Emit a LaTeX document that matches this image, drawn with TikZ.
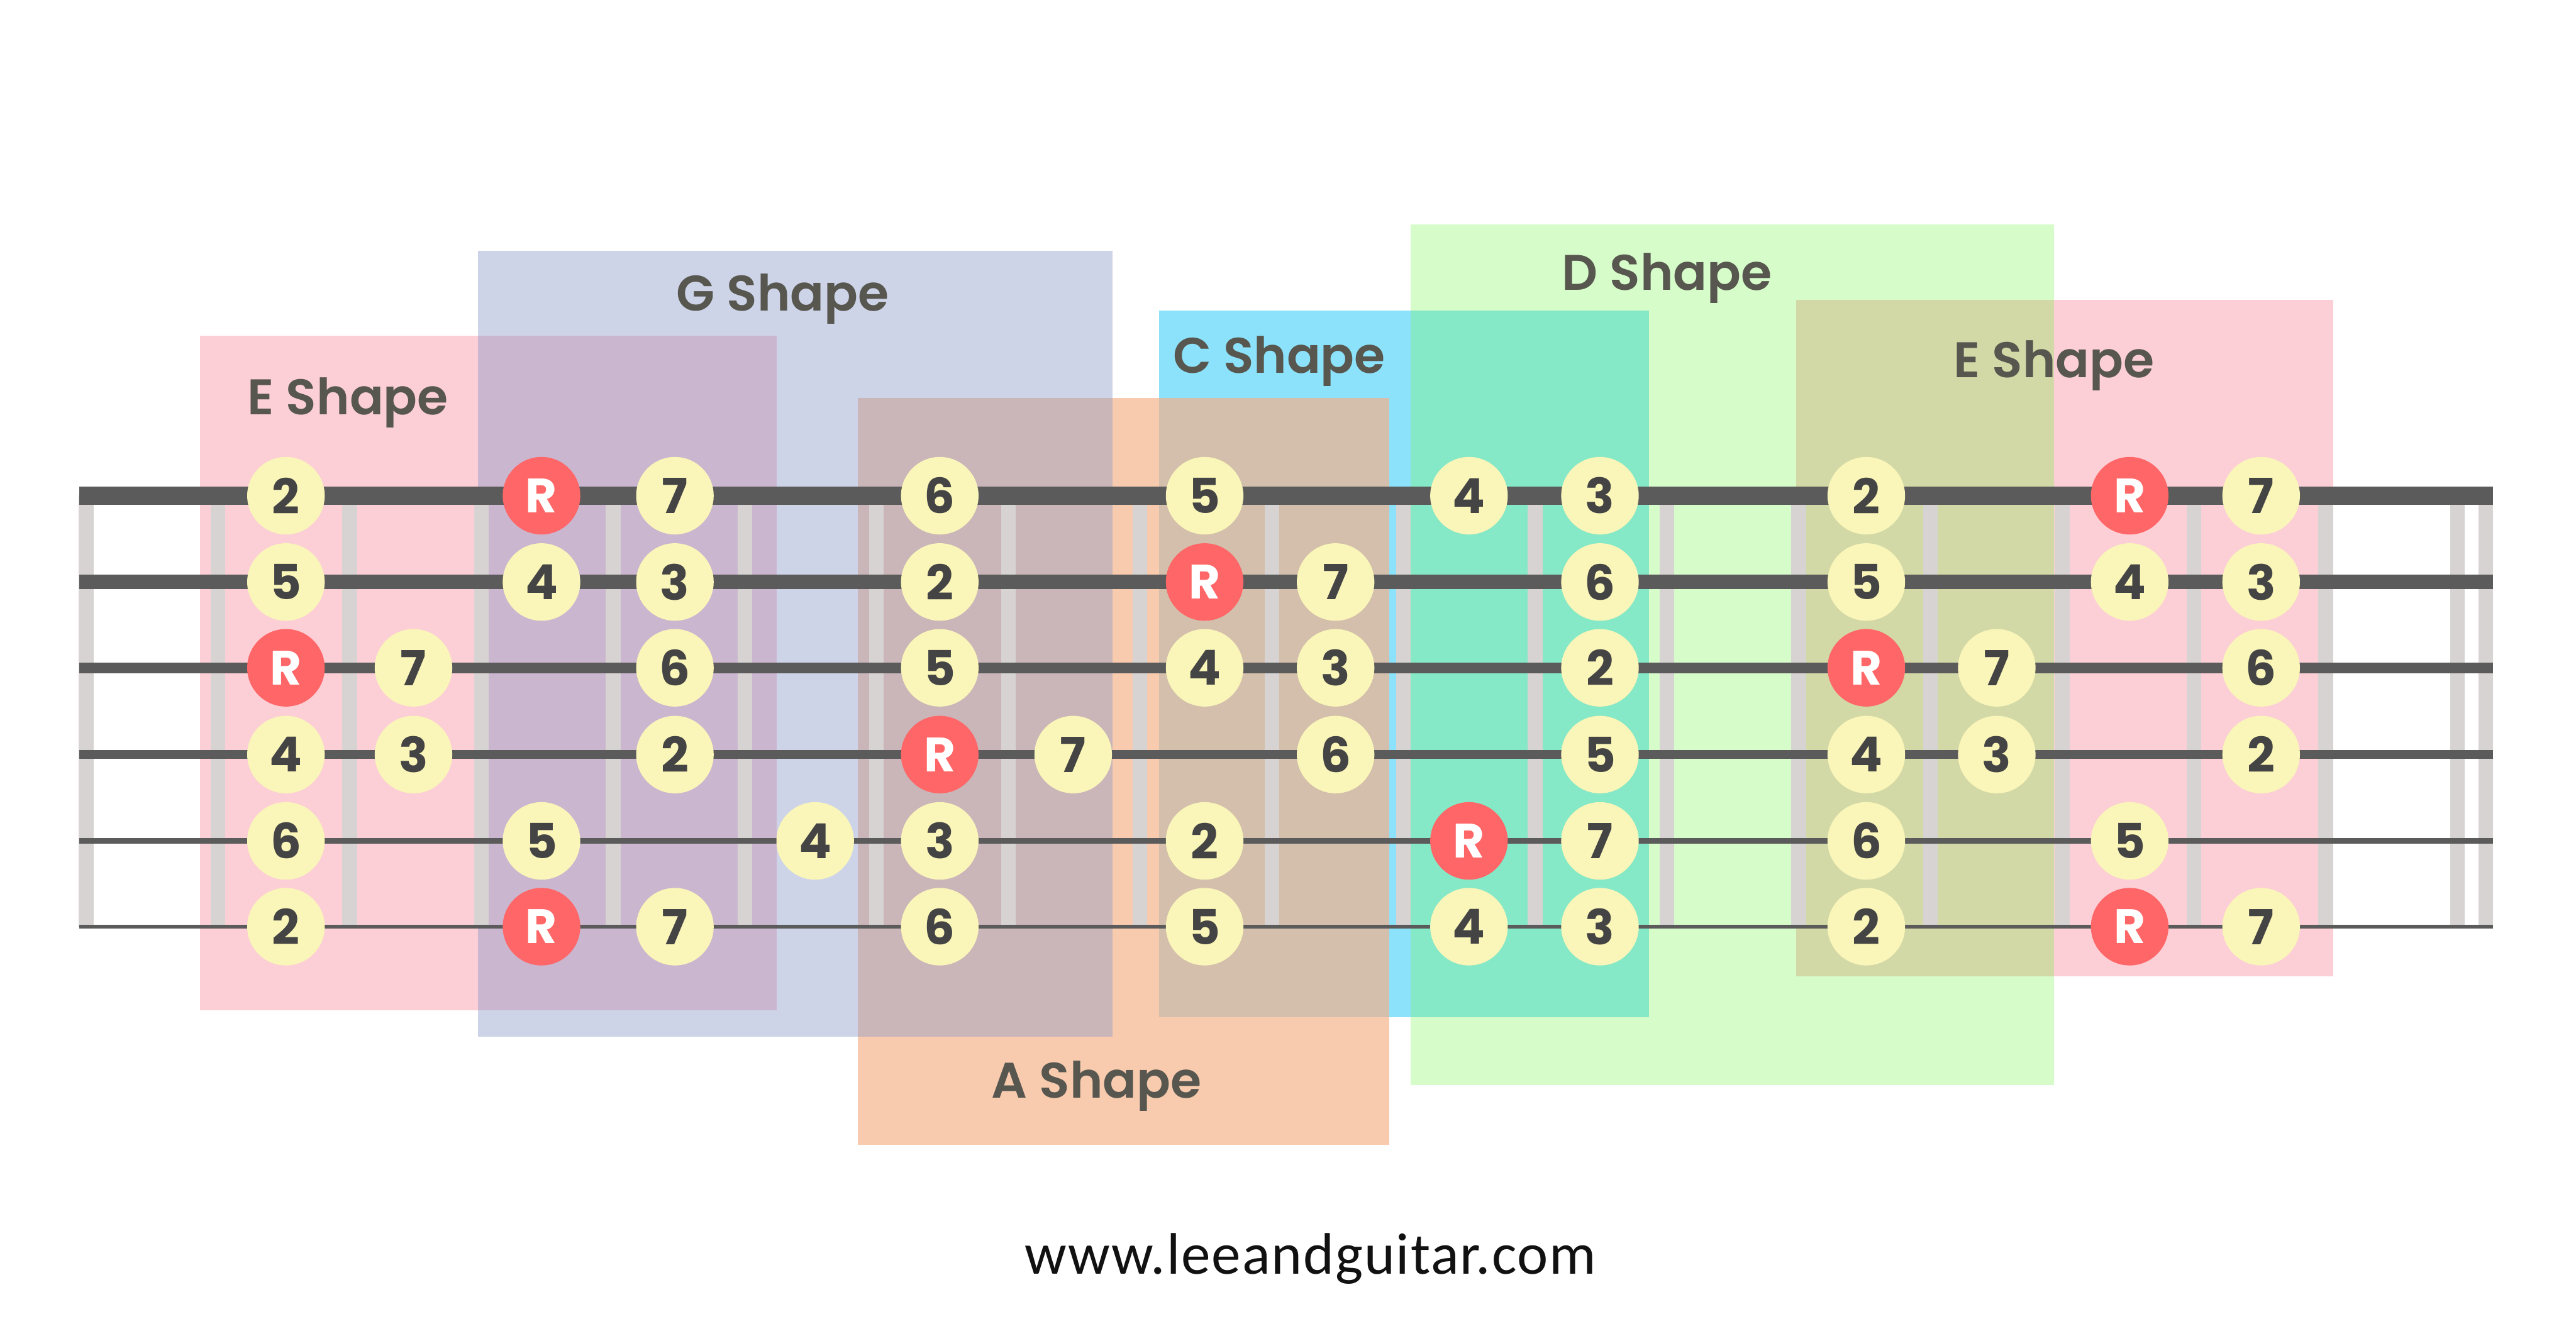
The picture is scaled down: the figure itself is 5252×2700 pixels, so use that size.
\documentclass[tikz,border=0pt]{standalone}
\usepackage{fontspec}
\newfontfamily\shapefont{Poppins SemiBold}
\newfontfamily\notefont{Poppins Bold}
\newfontfamily\webfont{Carlito}[LetterSpace=2]
\definecolor{eShape}{HTML}{FCCFD6}
\definecolor{gShape}{HTML}{CED4E8}
\definecolor{aShape}{HTML}{F8CBAF}
\definecolor{cShape}{HTML}{8CE2FA}
\definecolor{dShape}{HTML}{D6FCCA}
\definecolor{egMix}{HTML}{CBB6CF}
\definecolor{gaMix}{HTML}{CAB5B8}
\definecolor{acMix}{HTML}{D3BFAB}
\definecolor{cdMix}{HTML}{85E8C6}
\definecolor{deMix}{HTML}{D2D9A6}
\definecolor{fretgray}{HTML}{D8D3D3}
\definecolor{stringgray}{HTML}{5B5B5B}
\definecolor{noteyellow}{HTML}{FAF5B8}
\definecolor{rootred}{HTML}{FF6667}
\definecolor{digitgray}{HTML}{444444}
\definecolor{labelgray}{HTML}{57564F}
\definecolor{footergray}{HTML}{111111}
\tikzset{
  notebox/.style={circle, fill=noteyellow, minimum size=1.58cm, inner sep=0pt,
    font=\notefont\fontsize{28}{28}\selectfont, text=digitgray},
  rootbox/.style={notebox, fill=rootred, text=white},
  shapelabel/.style={anchor=base, inner sep=0pt, font=\shapefont\fontsize{29}{29}\selectfont, text=labelgray},
}
\begin{document}
\begin{tikzpicture}[x=0.01cm, y=-0.01cm]
\useasboundingbox (0,0) rectangle (5252,2700);
\fill[white] (0,0) rectangle (5252,2700);
% shape areas
\fill[eShape] (408,685) rectangle (1584,2060);
\fill[gShape] (974,511) rectangle (2268,2114);
\fill[aShape] (1749,812) rectangle (2833,2335);
\fill[cShape] (2363,633) rectangle (3362,2075);
\fill[dShape] (2876,458) rectangle (4188,2213);
\fill[eShape] (3662,611) rectangle (4757,1991);
% overlaps
\fill[egMix] (974,685) rectangle (1584,2060);
\fill[gaMix] (1749,812) rectangle (2268,2114);
\fill[acMix] (2363,812) rectangle (2833,2075);
\fill[cdMix] (2876,633) rectangle (3362,2075);
\fill[deMix] (3662,611) rectangle (4188,1991);
% frets
\foreach \k in {0,...,18}
  \fill[fretgray] ({175.5+\k*268.6-15},1011) rectangle ({175.5+\k*268.6+15},1890);
\fill[fretgray] (5053,1011) rectangle (5083,1890);
% strings
\foreach \y/\w in {1011/0.36,1187/0.29,1362/0.22,1539/0.18,1715/0.12,1890/0.085}
  \draw[stringgray, line width=\w cm] (161,\y) -- (5083,\y);
% scale degrees
\foreach \xx/\yy/\lab [count=\i] in {
  583/1011/2, 1376/1011/7, 1916/1011/6, 2456/1011/5, 2995/1011/4, 3262/1011/3, 3805/1011/2, 4610/1011/7,
  583/1187/5, 1104/1187/4, 1376/1187/3, 1916/1187/2, 2723/1187/7, 3262/1187/6, 3805/1187/5, 4342/1187/4, 4610/1187/3,
  843/1362/7, 1376/1362/6, 1916/1362/5, 2456/1362/4, 2723/1362/3, 3262/1362/2, 4071/1362/7, 4610/1362/6,
  583/1539/4, 843/1539/3, 1376/1539/2, 2188/1539/7, 2723/1539/6, 3262/1539/5, 3805/1539/4, 4071/1539/3, 4610/1539/2,
  583/1715/6, 1104/1715/5, 1662/1715/4, 1916/1715/3, 2456/1715/2, 3262/1715/7, 3805/1715/6, 4342/1715/5,
  583/1890/2, 1376/1890/7, 1916/1890/6, 2456/1890/5, 2995/1890/4, 3262/1890/3, 3805/1890/2, 4610/1890/7}
  \node[notebox] (note\i) at (\xx,\yy) {\lab};
% roots
\foreach \xx/\yy [count=\i] in {1104/1011, 4342/1011, 2456/1187, 583/1362, 3805/1362,
  1916/1539, 2995/1715, 1104/1890, 4342/1890}
  \node[rootbox] (root\i) at (\xx,\yy) {R};
% labels
\node[shapelabel] (lblEa) at (709.5,846) {E Shape};
\node[shapelabel] (lblG) at (1596,634) {G Shape};
\node[shapelabel] (lblC) at (2608,761) {C Shape};
\node[shapelabel] (lblD) at (3399,592) {D Shape};
\node[shapelabel] (lblEb) at (4188,770) {E Shape};
\node[shapelabel] (lblA) at (2236,2239) {A Shape};
\node[anchor=base, inner sep=0pt, font=\webfont\fontsize{34}{34}\selectfont, text=footergray] (web) at (2672,2599) {www.leeandguitar.com};
\end{tikzpicture}
\end{document}
